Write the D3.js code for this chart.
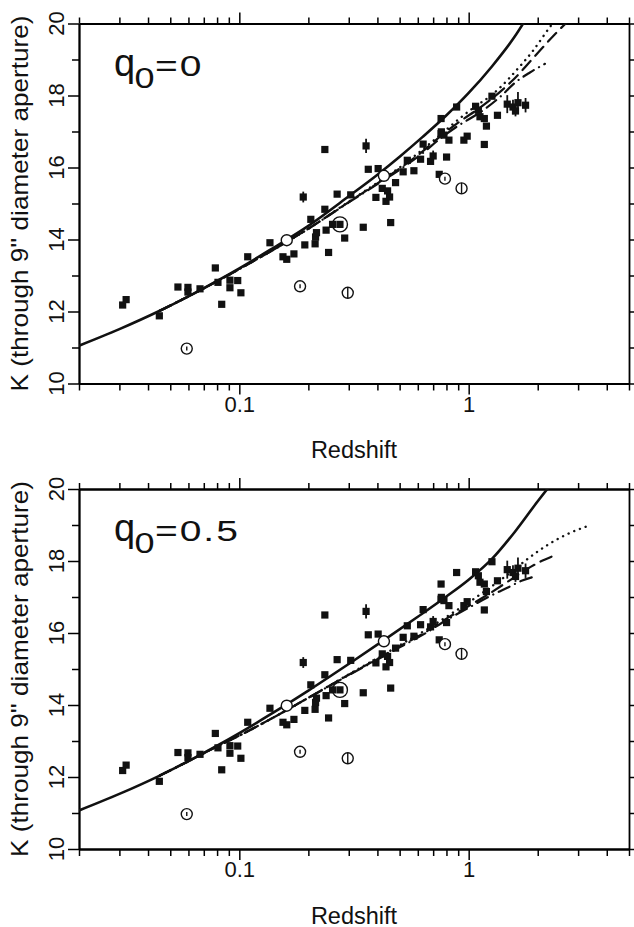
<!DOCTYPE html>
<html>
<head>
<meta charset="utf-8">
<script src="https://cdn.jsdelivr.net/npm/d3@7"></script>
<style>
body { margin: 0; background: #fff; }
text { font-family: "Liberation Sans", Arial, sans-serif; fill: #111; }
</style>
</head>
<body>
<script>
// observed galaxies (same in both panels): redshift, K magnitude, error bar half length
const obsZ = [0.031, 0.0321, 0.0448, 0.054, 0.0597, 0.0597, 0.0674, 0.0786, 0.0807, 0.0838,
  0.091, 0.091, 0.0984, 0.1016, 0.1088, 0.136, 0.155, 0.161, 0.173, 0.190,
  0.193, 0.205, 0.214, 0.215, 0.217, 0.236, 0.239, 0.236, 0.245, 0.267,
  0.255, 0.2746, 0.288, 0.306, 0.347, 0.357, 0.365, 0.394, 0.403, 0.42,
  0.436, 0.443, 0.452, 0.457, 0.48, 0.518, 0.54, 0.577, 0.617, 0.633,
  0.682, 0.70, 0.744, 0.758, 0.76, 0.78, 0.758, 0.801, 0.82, 0.886,
  0.953, 0.985, 1.072, 1.102, 1.12, 1.17, 1.17, 1.195, 1.263, 1.335,
  1.473, 1.56, 1.60, 1.64, 1.77];
const obsK = [12.18, 12.33, 11.88, 12.68, 12.67, 12.54, 12.63, 13.21, 12.81, 12.20,
  12.87, 12.66, 12.86, 12.52, 13.52, 13.91, 13.52, 13.45, 13.60, 15.18,
  13.85, 14.56, 13.88, 14.07, 14.19, 16.50, 14.26, 14.84, 13.64, 15.26,
  14.42, 14.42, 14.04, 15.24, 14.34, 16.60, 15.95, 15.17, 15.97, 15.42,
  15.06, 15.35, 15.18, 14.47, 15.58, 15.88, 16.20, 15.91, 16.23, 16.65,
  16.17, 16.32, 15.81, 16.94, 16.99, 16.90, 17.36, 16.29, 16.76, 17.68,
  16.76, 16.87, 17.70, 17.59, 17.41, 17.36, 16.64, 17.15, 17.98, 17.45,
  17.76, 17.68, 17.57, 17.80, 17.73];
const obsErr = [0, 0, 0, 0, 0, 0, 0, 0, 0, 0,
  0, 0, 0, 0, 0, 0, 0, 0, 0, 0.15,
  0, 0, 0, 0, 0, 0, 0, 0, 0, 0,
  0, 0, 0, 0, 0, 0.2, 0, 0, 0, 0,
  0, 0, 0, 0, 0, 0, 0, 0, 0, 0,
  0, 0.15, 0, 0, 0, 0, 0, 0, 0, 0,
  0, 0, 0, 0, 0, 0, 0, 0, 0, 0,
  0.25, 0.2, 0.15, 0.3, 0.2];

// open-circle objects
const circZ = [0.059, 0.161, 0.184, 0.2746, 0.297, 0.427, 0.788, 0.931];
const circK = [10.97, 13.98, 12.70, 14.42, 12.52, 15.77, 15.69, 15.42];
const circKind = ["dot", "open", "dot", "big", "bar", "open", "dot", "bar"];

// model tracks, q0 = 0
const topSolidZ = [0.02, 0.03, 0.045, 0.06, 0.08, 0.1, 0.136, 0.2, 0.3, 0.4, 0.5, 0.63, 0.794, 1.0, 1.26, 1.585, 1.8];
const topSolidK = [11.05, 11.51, 12.02, 12.42, 12.85, 13.2, 13.71, 14.38, 15.2, 15.8, 16.3, 16.85, 17.43, 18.07, 18.8, 19.63, 20.18];
const topDotZ = [0.045, 0.06, 0.08, 0.1, 0.136, 0.2, 0.3, 0.4, 0.5, 0.63, 0.75, 0.9, 1.07, 1.24, 1.37, 1.64, 1.91, 2.2, 2.35];
const topDotK = [12.02, 12.42, 12.84, 13.18, 13.66, 14.3, 15.05, 15.58, 16.0, 16.5, 16.9, 17.33, 17.7, 17.98, 18.22, 18.75, 19.25, 19.8, 20.05];
const topDashZ = [0.045, 0.06, 0.08, 0.1, 0.136, 0.2, 0.3, 0.4, 0.5, 0.63, 0.75, 0.91, 1.12, 1.37, 1.56, 2.0, 2.4, 2.75];
const topDashK = [12.02, 12.42, 12.84, 13.18, 13.66, 14.3, 15.04, 15.56, 15.97, 16.45, 16.86, 17.27, 17.66, 18.1, 18.43, 19.18, 19.73, 20.1];
const topDashDotZ = [0.045, 0.06, 0.08, 0.1, 0.136, 0.2, 0.3, 0.4, 0.5, 0.63, 0.75, 0.91, 1.12, 1.37, 1.61, 1.85, 2.15];
const topDashDotK = [12.02, 12.42, 12.84, 13.18, 13.66, 14.3, 15.03, 15.54, 15.94, 16.4, 16.8, 17.18, 17.53, 17.96, 18.38, 18.64, 18.88];

// model tracks, q0 = 0.5
const botSolidZ = [0.02, 0.03, 0.045, 0.06, 0.08, 0.1, 0.136, 0.161, 0.2, 0.3, 0.427, 0.6, 0.794, 1.0, 1.26, 1.585, 2.0, 2.4];
const botSolidK = [11.07, 11.53, 12.04, 12.44, 12.87, 13.22, 13.73, 14.02, 14.4, 15.14, 15.8, 16.45, 17.0, 17.48, 18.05, 18.8, 19.66, 20.3];
const botDotZ = [0.045, 0.06, 0.08, 0.1, 0.136, 0.2, 0.3, 0.4, 0.5, 0.65, 0.8, 1.0, 1.2, 1.5, 1.8, 2.2, 2.7, 3.3];
const botDotK = [12.04, 12.44, 12.85, 13.15, 13.6, 14.2, 14.85, 15.3, 15.66, 16.08, 16.45, 16.85, 17.2, 17.65, 18.05, 18.44, 18.75, 18.97];
const botDashZ = [0.045, 0.06, 0.08, 0.1, 0.136, 0.2, 0.3, 0.4, 0.5, 0.65, 0.8, 1.0, 1.2, 1.5, 1.8, 2.05, 2.3];
const botDashK = [12.04, 12.44, 12.85, 13.15, 13.6, 14.2, 14.84, 15.28, 15.63, 16.03, 16.4, 16.75, 17.05, 17.45, 17.78, 17.98, 18.12];
const botDashDotZ = [0.045, 0.06, 0.08, 0.1, 0.136, 0.2, 0.3, 0.4, 0.5, 0.65, 0.8, 1.0, 1.2, 1.5, 1.7, 1.95];
const botDashDotK = [12.04, 12.44, 12.85, 13.15, 13.6, 14.2, 14.83, 15.26, 15.6, 16.0, 16.36, 16.7, 16.98, 17.28, 17.45, 17.57];

// ticks
const xMajor = [0.1, 1];
const xMinor = [0.02, 0.03, 0.04, 0.05, 0.06, 0.07, 0.08, 0.09, 0.2, 0.3, 0.4, 0.5, 0.6, 0.7, 0.8, 0.9, 2, 3, 4, 5];
const yMajor = [10, 12, 14, 16, 18, 20];
const yMinor = [11, 13, 15, 17, 19];
const qLabels = ["0", "0.5"];

const width = 634, height = 927;
const left = 79, right = 629, plotH = 360;
const panelTops = [23.5, 489];

const svg = d3.select("body").append("svg")
    .attr("width", width)
    .attr("height", height);

const x = d3.scaleLog().domain([0.02, 5]).range([left, right]);

const dashes = { solid: null, dot: "0.1,6", dash: "12,7", dashdot: "12,6,0.1,6" };

panelTops.forEach(function(top, p) {
  const y = d3.scaleLinear().domain([10, 20]).range([top + plotH, top]);
  const g = svg.append("g");

  g.append("clipPath").attr("id", "clip" + p)
    .append("rect").attr("x", left).attr("y", top).attr("width", right - left).attr("height", plotH);

  // axes
  const bottom = top + plotH;
  function frame(sel) {
    sel.select(".domain").attr("stroke-width", 1.8);
    sel.selectAll(".tick line").attr("stroke-width", 1.5);
  }
  g.append("g").attr("transform", "translate(0," + bottom + ")")
    .call(d3.axisBottom(x).tickValues(xMinor).tickSize(7).tickSizeOuter(0).tickFormat(""))
    .call(frame);
  g.append("g").attr("transform", "translate(0," + bottom + ")")
    .call(d3.axisBottom(x).tickValues(xMajor).tickSize(11).tickSizeOuter(0).tickPadding(1.5).tickFormat(d3.format("~g")))
    .call(frame)
    .call(function(s) { s.selectAll("text").attr("font-size", 22).attr("font-family", null); });
  g.append("g").attr("transform", "translate(0," + top + ")")
    .call(d3.axisTop(x).tickValues(xMinor).tickSize(6).tickSizeOuter(0).tickFormat(""))
    .call(frame);
  g.append("g").attr("transform", "translate(0," + top + ")")
    .call(d3.axisTop(x).tickValues(xMajor).tickSize(11).tickSizeOuter(0).tickFormat(""))
    .call(frame);
  g.append("g").attr("transform", "translate(" + left + ",0)")
    .call(d3.axisLeft(y).tickValues(yMinor).tickSize(7).tickSizeOuter(0).tickFormat(""))
    .call(frame);
  g.append("g").attr("transform", "translate(" + left + ",0)")
    .call(d3.axisLeft(y).tickValues(yMajor).tickSize(11).tickSizeOuter(0).tickFormat(""))
    .call(frame);
  g.append("g").attr("transform", "translate(" + right + ",0)")
    .call(d3.axisRight(y).tickValues(yMajor.concat(yMinor)).tickSize(5).tickSizeOuter(0).tickFormat(""))
    .call(frame);

  // rotated y tick labels
  g.selectAll(".ylab").data(yMajor).enter().append("text")
    .attr("class", "ylab")
    .attr("transform", function(d) { return "translate(63.5," + y(d) + ") rotate(-90)"; })
    .attr("text-anchor", "middle")
    .attr("font-size", 22)
    .text(function(d) { return d; });

  // axis titles
  g.append("text")
    .attr("transform", "translate(28," + (top + plotH / 2) + ") rotate(-90)")
    .attr("text-anchor", "middle")
    .attr("font-size", 24)
    .attr("textLength", 376)
    .attr("lengthAdjust", "spacingAndGlyphs")
    .text("K (through 9'' diameter aperture)");
  g.append("text")
    .attr("x", (left + right) / 2)
    .attr("y", bottom + 74.5)
    .attr("text-anchor", "middle")
    .attr("font-size", 23.5)
    .text("Redshift");

  // q0 label: q, subscript 0, then a wide "=value"
  const q = g.append("g").attr("transform", "translate(114," + (top + 52) + ")");
  q.append("text").attr("font-size", 38).text("q");
  q.append("text").attr("font-size", 30).attr("transform", "translate(20.5,12) scale(1.2,1)").text("0");
  q.append("text").attr("font-size", 30).attr("letter-spacing", 1.5)
    .attr("transform", "translate(41,0) scale(1.3,1)").text("=" + qLabels[p]);

  // model lines
  const tracks = p === 0
    ? [[topSolidZ, topSolidK, "solid"], [topDotZ, topDotK, "dot"], [topDashZ, topDashK, "dash"], [topDashDotZ, topDashDotK, "dashdot"]]
    : [[botSolidZ, botSolidK, "solid"], [botDotZ, botDotK, "dot"], [botDashZ, botDashK, "dash"], [botDashDotZ, botDashDotK, "dashdot"]];
  const line = d3.line()
    .x(function(d) { return x(d[0]); })
    .y(function(d) { return y(d[1]); })
    .curve(d3.curveMonotoneX);
  const lg = g.append("g").attr("clip-path", "url(#clip" + p + ")");
  tracks.forEach(function(t) {
    lg.append("path")
      .datum(d3.zip(t[0], t[1]))
      .attr("fill", "none")
      .attr("stroke", "#111")
      .attr("stroke-width", t[2] === "solid" ? 2.6 : (t[2] === "dot" ? 2.4 : 2.2))
      .attr("stroke-linecap", t[2] === "solid" ? "butt" : "round")
      .attr("stroke-dasharray", dashes[t[2]])
      .attr("d", line);
  });

  // error bars and filled squares
  const pts = d3.range(obsZ.length);
  g.append("g").selectAll("line").data(pts.filter(function(i) { return obsErr[i] > 0; })).enter().append("line")
    .attr("x1", function(i) { return x(obsZ[i]); })
    .attr("x2", function(i) { return x(obsZ[i]); })
    .attr("y1", function(i) { return y(obsK[i] - obsErr[i]); })
    .attr("y2", function(i) { return y(obsK[i] + obsErr[i]); })
    .attr("stroke", "#111")
    .attr("stroke-width", 1.8);
  g.append("g").selectAll("rect").data(pts).enter().append("rect")
    .attr("x", function(i) { return x(obsZ[i]) - 3.6; })
    .attr("y", function(i) { return y(obsK[i]) - 3.6; })
    .attr("width", 7.2)
    .attr("height", 7.2)
    .attr("fill", "#111");

  // open circles
  const cg = g.append("g").selectAll("g").data(d3.range(circZ.length)).enter().append("g")
    .attr("transform", function(i) { return "translate(" + x(circZ[i]) + "," + y(circK[i]) + ")"; });
  cg.append("circle")
    .attr("r", function(i) { return circKind[i] === "big" ? 7.5 : 5.5; })
    .attr("fill", function(i) { return circKind[i] === "big" ? "none" : "#fff"; })
    .attr("stroke", "#111")
    .attr("stroke-width", 1.4);
  cg.filter(function(i) { return circKind[i] === "dot" || circKind[i] === "bar"; })
    .append("line")
    .attr("y1", function(i) { return circKind[i] === "bar" ? -5.5 : -2; })
    .attr("y2", function(i) { return circKind[i] === "bar" ? 5.5 : 2; })
    .attr("stroke", "#111")
    .attr("stroke-width", 1.4);
});
</script>
</body>
</html>
